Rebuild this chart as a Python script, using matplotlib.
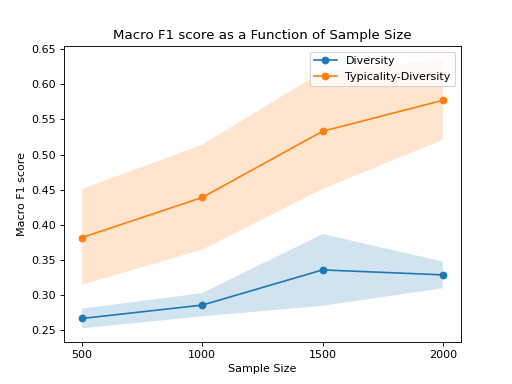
import numpy as np
import matplotlib
matplotlib.use("Agg")
import matplotlib.pyplot as plt

sizes = [500, 1000, 1500, 2000]

div_mean = [0.267, 0.286, 0.336, 0.329]
div_low = [0.253, 0.270, 0.285, 0.310]
div_high = [0.281, 0.303, 0.387, 0.348]

td_mean = [0.382, 0.439, 0.533, 0.577]
td_low = [0.315, 0.365, 0.451, 0.521]
td_high = [0.451, 0.514, 0.618, 0.635]

fig, ax = plt.subplots(figsize=(6.4, 4.8), dpi=80)

ax.plot(sizes, div_mean, marker="o", label="Diversity")
ax.fill_between(sizes, div_low, div_high, alpha=0.2)
ax.plot(sizes, td_mean, marker="o", label="Typicality-Diversity")
ax.fill_between(sizes, td_low, td_high, alpha=0.2)

ax.set_xticks(sizes)
ax.set_yticks(np.arange(0.25, 0.651, 0.05))
ax.set_xlabel("Sample Size")
ax.set_ylabel("Macro F1 score")
ax.set_title("Macro F1 score as a Function of Sample Size")
ax.legend(loc="upper right")

fig.savefig("out.png")
